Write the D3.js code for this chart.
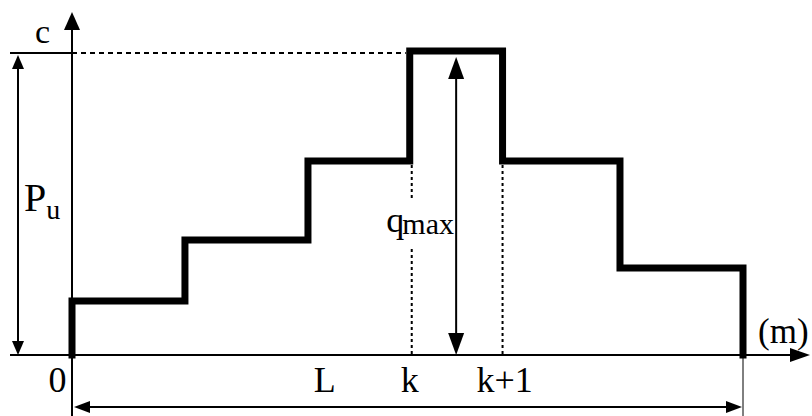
<!DOCTYPE html>
<html lang="en">
<head>
    <meta charset="UTF-8">
    <title>Stepped load profile</title>
    <script src="https://d3js.org/d3.v7.min.js"></script>
    <style>
        body { margin: 0; background: white; }
        svg { display: block; }
    </style>
</head>
<body>
    <svg width="812" height="416"></svg>
    <script>
        // step profile along the member (units along L), and load level of each step
        const stepEdges = [0, 1.01, 2.11, 3.02, 3.85, 4.9, 6];
        const stepLevels = [1.78, 3.78, 6.38, 10, 6.38, 2.86];
        const capacity = 10;          // c / Pu level
        const kIndex = 3;             // step k .. k+1 is the peak
        const xLabels = [{t: "0", v: -0.13}, {t: "L", v: 2.26}, {t: "k", v: 3.02}, {t: "k+1", v: 3.85}];

        const serif = "'Liberation Serif', 'DejaVu Serif', 'Times New Roman', serif";
        const svg = d3.select("svg").attr("font-family", serif);
        const x = d3.scaleLinear().domain([0, 6]).range([72, 743]);
        const y = d3.scaleLinear().domain([0, 10]).range([355, 51]);

        function arrowHead(px, py, dir, len, half) {
            // dir: "up","down","left","right" - tip at (px,py)
            let pts;
            if (dir === "up") pts = [[px, py], [px - half, py + len], [px + half, py + len]];
            if (dir === "down") pts = [[px, py], [px - half, py - len], [px + half, py - len]];
            if (dir === "left") pts = [[px, py], [px + len, py - half], [px + len, py + half]];
            if (dir === "right") pts = [[px, py], [px - len, py - half], [px - len, py + half]];
            svg.append("path").attr("d", "M" + pts.join("L") + "Z").attr("fill", "black");
        }
        function line(x1, y1, x2, y2, w, dash) {
            const l = svg.append("line")
                .attr("x1", x1).attr("y1", y1).attr("x2", x2).attr("y2", y2)
                .attr("stroke", "black").attr("stroke-width", w);
            if (dash) l.attr("stroke-dasharray", dash);
            return l;
        }

        const x0 = x(0), xL = x(6), y0 = y(0), yc = y(capacity);

        // axes
        line(x0, 416, x0, 26, 2);
        arrowHead(x0, 12, "up", 18, 8);
        line(10, y0, 795, y0, 2);
        arrowHead(810, y0, "right", 20, 7);

        // Pu dimension
        line(10, yc + 2, x0, yc + 2, 2);
        line(x0, yc + 2, x(stepEdges[kIndex]) - 4, yc + 2, 2, "5,4");
        line(18, yc + 14, 18, y0 - 14, 2);
        arrowHead(18, yc + 4, "up", 14, 6);
        arrowHead(18, y0, "down", 14, 6);

        // dashed guides at k and k+1
        const yk = y(stepLevels[kIndex - 1]);
        line(x(stepEdges[kIndex]) + 2, yk + 4, x(stepEdges[kIndex]) + 2, y0, 2, "3,3");
        line(x(stepEdges[kIndex + 1]), yk + 4, x(stepEdges[kIndex + 1]), y0, 2, "3,3");

        // stepped profile
        const pts = [[stepEdges[0], 0]];
        stepLevels.forEach((lv, i) => {
            pts.push([stepEdges[i], lv]);
            pts.push([stepEdges[i + 1], lv]);
        });
        pts.push([stepEdges[stepEdges.length - 1], 0]);
        svg.append("path")
            .attr("d", d3.line().x(d => x(d[0])).y(d => y(d[1]))(pts))
            .attr("fill", "none").attr("stroke", "black")
            .attr("stroke-width", 7).attr("stroke-linejoin", "miter").attr("stroke-linecap", "square");

        // qmax dimension
        const xq = x((stepEdges[kIndex] + stepEdges[kIndex + 1]) / 2);
        line(xq, y(stepLevels[kIndex]) + 20, xq, y0 - 18, 2);
        arrowHead(xq, y(stepLevels[kIndex]) + 6, "up", 22, 8);
        arrowHead(xq, y0, "down", 22, 8);
        svg.append("rect").attr("x", 378).attr("y", 200).attr("width", 76).attr("height", 48).attr("fill", "white");
        const qt = svg.append("text").attr("x", 454).attr("y", 232).attr("text-anchor", "end");
        qt.append("tspan").attr("font-size", 36).text("q");
        qt.append("tspan").attr("font-size", 30).attr("dy", 2).attr("dx", -2).text("max");

        // L dimension
        line(xL, y0, xL, 416, 1);
        line(x0 + 14, 407, xL - 14, 407, 2);
        arrowHead(x0 + 2, 407, "left", 16, 6);
        arrowHead(xL - 1, 407, "right", 16, 6);

        // labels
        svg.append("text").attr("x", 35).attr("y", 43).attr("font-size", 34).text("c");
        const pu = svg.append("text").attr("x", 24).attr("y", 211).attr("font-size", 40);
        pu.append("tspan").text("P");
        pu.append("tspan").attr("font-size", 28).attr("dy", 8).text("u");
        svg.append("text").attr("x", 758).attr("y", 343).attr("font-size", 35).text("(m)");
        svg.selectAll(".xl").data(xLabels).join("text")
            .attr("class", "xl")
            .attr("x", d => x(d.v))
            .attr("y", 392)
            .attr("font-size", 36)
            .attr("text-anchor", d => d.t === "k+1" ? "start" : "middle")
            .attr("dx", d => d.t === "k+1" ? -26 : 0)
            .text(d => d.t);
    </script>
</body>
</html>
